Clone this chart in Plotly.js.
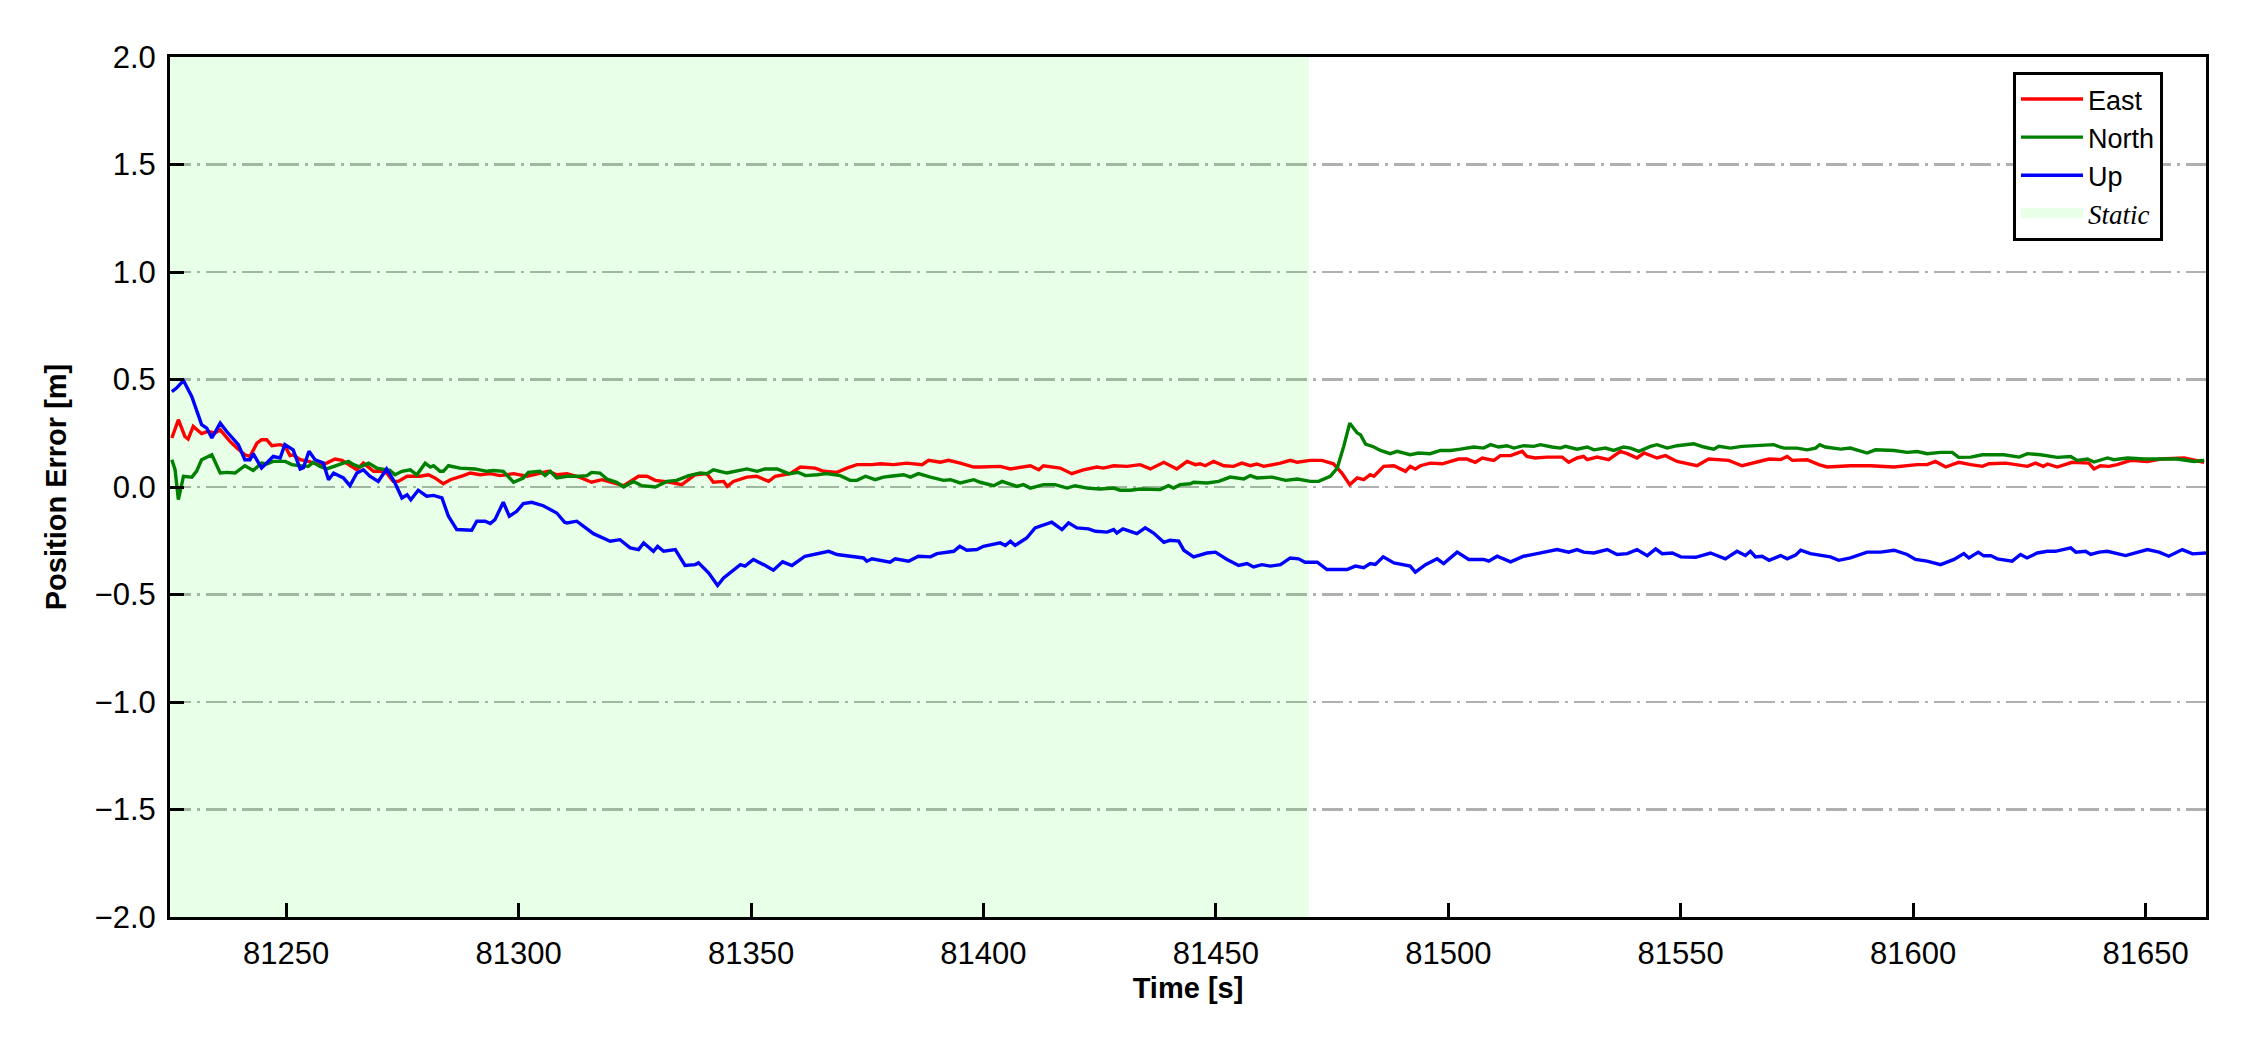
<!DOCTYPE html>
<html>
<head>
<meta charset="utf-8">
<script src="https://cdn.plot.ly/plotly-3.0.1.min.js"></script>
<style>html,body{margin:0;padding:0;background:#fff;}</style>
</head>
<body>
<div id="chart" style="width:2250px;height:1050px;"></div>
<script>
// ---- Data ----
const staticStart = 81225;
const staticEnd = 81470;
const yTickVals = [-2.0, -1.5, -1.0, -0.5, 0.0, 0.5, 1.0, 1.5, 2.0];
const yTickText = ["\u22122.0", "\u22121.5", "\u22121.0", "\u22120.5", "0.0", "0.5", "1.0", "1.5", "2.0"];
const xTickVals = [81250, 81300, 81350, 81400, 81450, 81500, 81550, 81600, 81650];
const xTickText = ["81250", "81300", "81350", "81400", "81450", "81500", "81550", "81600", "81650"];

const eastT = [81225.4,81226.8,81228.2,81228.9,81230.0,81231.8,81233.2,81234.7,81235.8,81237.9,81239.4,81241.1,81242.2,81243.7,81244.7,81245.8,81246.9,81248.7,81249.8,81250.8,81251.5,81253.0,81254.8,81257.0,81258.7,81260.5,81262.0,81263.7,81265.2,81266.6,81268.8,81270.5,81271.6,81273.0,81274.1,81276.0,81278.8,81280.6,81282.0,81283.8,81285.3,81288.1,81289.6,81291.7,81293.9,81296.0,81298.9,81301.8,81303.9,81306.4,81308.2,81310.4,81313.2,81315.7,81317.9,81320.4,81322.6,81325.8,81327.6,81329.4,81332.6,81335.1,81336.5,81338.0,81340.5,81341.9,81344.1,81344.9,81346.2,81349.1,81351.2,81353.8,81355.2,81358.4,81360.6,81363.8,81365.6,81368.5,81370.6,81372.8,81376.0,81377.8,81380.7,81383.5,81386.8,81388.2,81390.7,81392.5,81395.0,81396.4,81397.9,81399.3,81403.6,81405.8,81410.1,81411.9,81412.9,81416.5,81419.0,81421.5,81424.4,81425.8,81428.0,81430.9,81433.7,81435.9,81438.8,81441.6,81443.8,81445.6,81446.6,81447.7,81449.5,81451.7,81453.8,81455.6,81457.4,81458.8,81460.3,81463.9,81466.0,81467.5,81470.3,81472.8,81475.3,81477.1,81478.8,81480.4,81481.8,81483.2,81484.0,81486.1,81488.3,81490.8,81491.8,81492.9,81494.0,81496.1,81498.7,81502.2,81504.0,81505.8,81507.3,81509.8,81511.2,81513.4,81515.9,81516.9,81518.7,81521.2,81524.5,81525.9,81527.7,81529.1,81529.9,81532.0,81534.5,81537.0,81538.5,81540.6,81542.1,81544.9,81546.7,81549.2,81553.5,81556.0,81560.3,81563.2,81565.4,81567.2,81569.0,81571.5,81572.9,81574.0,81577.2,81579.7,81581.5,81586.5,81590.8,81595.9,81600.9,81603.0,81604.8,81607.0,81609.8,81612.4,81614.9,81616.3,81619.9,81624.6,81626.3,81628.0,81628.9,81631.0,81634.2,81637.8,81638.9,81640.3,81642.1,81643.9,81646.8,81650.4,81653.2,81658.3,81660.4,81662.6];
const eastV = [0.228,0.313,0.235,0.223,0.282,0.248,0.259,0.251,0.266,0.212,0.181,0.150,0.142,0.204,0.220,0.220,0.192,0.197,0.189,0.146,0.150,0.127,0.119,0.104,0.111,0.130,0.124,0.099,0.080,0.111,0.073,0.073,0.065,0.026,0.026,0.050,0.050,0.057,0.042,0.015,0.034,0.053,0.065,0.057,0.062,0.053,0.062,0.050,0.062,0.073,0.057,0.062,0.045,0.022,0.034,0.019,0.006,0.050,0.050,0.031,0.022,0.011,0.034,0.057,0.062,0.022,0.026,0.003,0.026,0.046,0.050,0.026,0.050,0.062,0.093,0.088,0.073,0.068,0.088,0.104,0.104,0.108,0.104,0.111,0.104,0.124,0.115,0.124,0.111,0.104,0.093,0.093,0.096,0.084,0.099,0.080,0.099,0.088,0.062,0.080,0.093,0.088,0.099,0.096,0.104,0.084,0.115,0.084,0.119,0.104,0.108,0.099,0.119,0.099,0.096,0.111,0.099,0.107,0.096,0.111,0.124,0.115,0.124,0.124,0.108,0.065,0.011,0.042,0.034,0.057,0.050,0.096,0.099,0.073,0.096,0.084,0.099,0.111,0.108,0.130,0.130,0.115,0.135,0.124,0.146,0.146,0.166,0.142,0.135,0.139,0.139,0.115,0.135,0.142,0.127,0.139,0.127,0.166,0.155,0.135,0.158,0.135,0.146,0.119,0.099,0.130,0.124,0.099,0.111,0.119,0.130,0.128,0.142,0.124,0.127,0.104,0.093,0.099,0.099,0.093,0.104,0.104,0.119,0.093,0.115,0.104,0.096,0.108,0.111,0.096,0.111,0.096,0.107,0.093,0.115,0.111,0.084,0.099,0.096,0.104,0.124,0.119,0.130,0.135,0.127,0.115];

const northT = [81225.4,81226.1,81226.8,81227.9,81229.7,81230.7,81231.8,81232.5,81234.0,81235.8,81237.2,81239.0,81241.1,81242.9,81244.7,81245.8,81247.2,81249.8,81251.2,81253.0,81254.8,81255.8,81257.3,81258.7,81260.9,81263.4,81264.5,81265.9,81267.7,81269.5,81272.3,81273.4,81274.9,81276.7,81278.1,81279.9,81281.0,81281.7,81283.1,81283.8,81284.9,81287.4,81290.6,81293.2,81294.6,81296.7,81298.9,81301.0,81302.1,81304.6,81305.7,81306.8,81308.2,81310.4,81313.2,81314.7,81315.7,81317.5,81319.0,81321.1,81322.6,81324.7,81326.5,81329.4,81331.9,81334.0,81336.6,81339.1,81340.5,81341.9,81344.8,81346.6,81349.1,81351.3,81353.0,81355.6,81358.1,81360.2,81361.7,81364.2,81366.3,81369.2,81371.3,81372.8,81374.6,81376.7,81378.5,81380.0,81382.8,81384.3,81386.0,81388.6,81391.4,81392.9,81395.0,81397.9,81399.3,81402.2,81404.0,81407.2,81408.6,81410.1,81412.9,81415.4,81418.0,81419.7,81422.3,81425.1,81428.0,81429.4,81431.6,81433.7,81435.9,81438.0,81439.8,81440.9,81442.3,81444.5,81445.2,81448.1,81450.6,81453.1,81456.0,81457.4,81458.8,81462.1,81465.0,81467.5,81470.3,81472.1,81474.6,81476.1,81477.5,81478.8,81480.4,81481.1,81482.2,81484.0,81485.4,81487.5,81489.0,81490.8,81491.8,81493.6,81496.1,81498.3,81500.5,81502.6,81505.5,81507.6,81509.1,81510.8,81512.6,81514.1,81516.2,81518.4,81519.8,81522.3,81524.1,81525.2,81527.7,81529.9,81531.3,81533.8,81535.6,81537.7,81539.2,81541.0,81543.5,81544.9,81547.1,81549.2,81552.8,81555.0,81557.1,81558.2,81560.7,81563.2,81567.9,81570.0,81571.5,81572.2,81575.0,81577.2,81579.0,81579.9,81581.1,81584.4,81586.5,81590.1,81591.9,81595.9,81598.7,81600.9,81603.0,81605.9,81608.4,81609.8,81612.4,81614.9,81619.5,81622.8,81624.6,81627.4,81631.0,81633.9,81635.3,81637.5,81638.9,81641.8,81643.2,81646.1,81649.7,81654.0,81656.8,81660.4,81662.6];
const northV = [0.127,0.080,-0.059,0.050,0.046,0.073,0.127,0.135,0.150,0.065,0.068,0.065,0.099,0.077,0.111,0.107,0.119,0.119,0.104,0.099,0.096,0.115,0.096,0.084,0.099,0.119,0.104,0.093,0.111,0.088,0.077,0.057,0.073,0.080,0.057,0.111,0.093,0.099,0.073,0.073,0.099,0.088,0.084,0.073,0.077,0.073,0.022,0.042,0.068,0.073,0.053,0.073,0.042,0.050,0.050,0.053,0.068,0.065,0.037,0.022,0.000,0.026,0.006,0.000,0.026,0.031,0.053,0.065,0.062,0.080,0.065,0.073,0.084,0.073,0.084,0.084,0.062,0.068,0.053,0.057,0.062,0.053,0.031,0.031,0.050,0.034,0.046,0.050,0.057,0.046,0.062,0.046,0.031,0.034,0.019,0.034,0.022,0.006,0.026,0.003,0.011,-0.005,0.011,0.011,-0.005,0.006,-0.005,-0.009,-0.005,-0.015,-0.015,-0.009,-0.012,-0.012,0.006,-0.005,0.011,0.015,0.022,0.019,0.026,0.046,0.037,0.053,0.042,0.046,0.031,0.037,0.026,0.026,0.050,0.088,0.189,0.297,0.251,0.243,0.200,0.186,0.170,0.155,0.166,0.158,0.150,0.158,0.155,0.170,0.170,0.176,0.186,0.181,0.197,0.186,0.192,0.181,0.192,0.189,0.197,0.186,0.181,0.189,0.176,0.186,0.173,0.181,0.170,0.186,0.181,0.166,0.189,0.197,0.181,0.192,0.201,0.186,0.176,0.189,0.181,0.189,0.197,0.197,0.185,0.181,0.181,0.173,0.181,0.197,0.186,0.176,0.181,0.158,0.173,0.170,0.161,0.165,0.155,0.161,0.161,0.138,0.139,0.150,0.150,0.139,0.155,0.150,0.138,0.142,0.124,0.130,0.116,0.135,0.127,0.135,0.130,0.130,0.130,0.119,0.124];

const upT = [81225.4,81226.4,81227.9,81229.7,81231.8,81232.9,81234.0,81235.8,81237.2,81239.7,81241.1,81242.2,81242.9,81244.7,81247.2,81248.7,81249.7,81251.5,81253.0,81253.7,81254.9,81256.2,81258.0,81259.1,81260.2,81262.3,81263.7,81265.2,81266.6,81268.0,81269.8,81271.6,81273.4,81274.9,81276.0,81276.8,81278.4,81280.2,81281.7,81283.5,81284.9,81286.7,81289.9,81291.0,81292.8,81293.9,81294.9,81296.7,81298.0,81299.6,81301.0,81302.8,81305.3,81308.2,81309.9,81310.4,81312.5,81316.1,81319.7,81321.8,81324.0,81325.8,81326.9,81329.0,81329.9,81331.2,81333.7,81335.8,81338.0,81338.7,81340.9,81342.8,81344.1,81345.9,81347.7,81348.7,81350.5,81352.7,81354.8,81356.8,81358.8,81361.6,81364.2,81366.7,81368.5,81372.0,81374.2,81374.9,81376.0,81379.9,81381.0,81383.9,81386.0,81388.6,81390.0,81393.6,81394.9,81396.4,81398.6,81400.0,81403.6,81404.7,81405.8,81406.8,81409.3,81411.1,81412.9,81414.7,81416.9,81418.3,81420.1,81422.6,81424.1,81426.6,81428.0,81428.7,81430.0,81433.0,81434.8,81436.6,81438.8,81440.1,81442.0,81443.1,81445.2,81448.1,81449.9,81452.4,81454.9,81456.7,81458.1,81459.9,81461.7,81463.9,81466.0,81467.8,81469.2,81471.8,81473.9,81478.2,81480.0,81481.8,81483.2,81484.3,81486.0,81488.3,81491.8,81492.9,81495.1,81497.6,81499.0,81501.9,81504.4,81507.6,81508.7,81510.5,81513.4,81516.2,81519.1,81523.4,81525.9,81527.7,81529.1,81531.3,81534.2,81536.3,81538.5,81540.6,81542.8,81544.6,81546.0,81548.2,81550.0,81553.2,81556.4,81559.6,81562.1,81563.9,81565.0,81566.1,81567.5,81569.0,81571.5,81572.9,81574.7,81575.8,81577.9,81582.2,81584.0,81586.5,81590.1,81593.0,81595.9,81598.7,81600.5,81603.0,81605.9,81608.8,81610.9,81612.0,81614.0,81615.2,81616.7,81618.1,81621.3,81623.1,81624.5,81626.7,81628.9,81630.6,81633.9,81635.0,81637.1,81638.2,81640.0,81641.8,81645.7,81650.4,81652.9,81655.0,81657.9,81660.1,81663.0];
const upV = [0.444,0.460,0.495,0.420,0.290,0.274,0.228,0.297,0.258,0.197,0.127,0.127,0.155,0.088,0.142,0.135,0.197,0.173,0.084,0.090,0.166,0.127,0.111,0.034,0.065,0.042,0.006,0.065,0.080,0.050,0.026,0.084,0.019,-0.051,-0.036,-0.059,-0.015,-0.043,-0.039,-0.051,-0.136,-0.198,-0.201,-0.159,-0.159,-0.170,-0.152,-0.071,-0.136,-0.113,-0.077,-0.071,-0.087,-0.121,-0.164,-0.167,-0.159,-0.217,-0.252,-0.245,-0.283,-0.291,-0.260,-0.299,-0.276,-0.299,-0.291,-0.365,-0.361,-0.353,-0.400,-0.458,-0.423,-0.392,-0.361,-0.368,-0.337,-0.361,-0.387,-0.348,-0.365,-0.322,-0.310,-0.299,-0.314,-0.322,-0.330,-0.345,-0.334,-0.350,-0.334,-0.345,-0.322,-0.325,-0.310,-0.299,-0.276,-0.294,-0.291,-0.276,-0.260,-0.272,-0.252,-0.272,-0.237,-0.190,-0.175,-0.164,-0.198,-0.167,-0.190,-0.195,-0.206,-0.210,-0.198,-0.214,-0.195,-0.217,-0.190,-0.214,-0.257,-0.248,-0.252,-0.294,-0.325,-0.307,-0.303,-0.337,-0.365,-0.356,-0.372,-0.361,-0.368,-0.361,-0.330,-0.334,-0.350,-0.350,-0.384,-0.384,-0.368,-0.375,-0.356,-0.360,-0.325,-0.353,-0.368,-0.396,-0.361,-0.334,-0.356,-0.303,-0.337,-0.337,-0.345,-0.322,-0.348,-0.322,-0.310,-0.291,-0.303,-0.291,-0.303,-0.307,-0.291,-0.314,-0.310,-0.291,-0.319,-0.288,-0.310,-0.307,-0.325,-0.327,-0.307,-0.334,-0.299,-0.319,-0.299,-0.325,-0.322,-0.341,-0.319,-0.334,-0.317,-0.294,-0.310,-0.325,-0.341,-0.330,-0.303,-0.303,-0.294,-0.314,-0.337,-0.345,-0.361,-0.337,-0.310,-0.330,-0.303,-0.320,-0.319,-0.334,-0.345,-0.314,-0.330,-0.307,-0.299,-0.299,-0.283,-0.303,-0.299,-0.314,-0.303,-0.299,-0.319,-0.291,-0.303,-0.322,-0.291,-0.311,-0.307];

// ---- Traces ----
const fontSans = "'Liberation Sans', Arial, sans-serif";
const staticFill = 'rgba(0,255,0,0.09)';
const traces = [
  {
    x: [staticStart, staticEnd, staticEnd, staticStart],
    y: [yTickVals[0], yTickVals[0], yTickVals[yTickVals.length-1], yTickVals[yTickVals.length-1]],
    type: 'scatter', mode: 'lines', fill: 'toself',
    fillcolor: staticFill,
    line: {width: 0, color: 'rgba(0,0,0,0)'},
    showlegend: false, hoverinfo: 'skip'
  },
  {x: eastT, y: eastV, type: 'scatter', mode: 'lines', name: 'East',
   line: {color: '#ff0000', width: 3.4}, legendrank: 1},
  {x: northT, y: northV, type: 'scatter', mode: 'lines', name: 'North',
   line: {color: '#008000', width: 3.4}, legendrank: 2},
  {x: upT, y: upV, type: 'scatter', mode: 'lines', name: 'Up',
   line: {color: '#0000ff', width: 3.4}, legendrank: 3},
  // legend proxy for the static-period shading
  {x: [null], y: [null], type: 'scatter', mode: 'lines',
   name: "<span style=\"font-family:'Liberation Serif',serif\"><i>Static</i></span>",
   line: {color: staticFill, width: 18}, legendrank: 4, hoverinfo: 'skip'}
];

const layout = {
  width: 2250, height: 1050,
  margin: {l: 170, r: 44, t: 57, b: 133},
  paper_bgcolor: '#ffffff', plot_bgcolor: '#ffffff',
  font: {family: fontSans, color: '#000000'},
  showlegend: true,
  legend: {
    x: 0.9052, y: 0.9826, xanchor: 'left', yanchor: 'top',
    bgcolor: '#ffffff', bordercolor: '#000000', borderwidth: 3,
    font: {family: fontSans, size: 27, color: '#000000'},
    itemwidth: 62, tracegroupgap: 0
  },
  xaxis: {
    range: [81225, 81663],
    tickmode: 'array', tickvals: xTickVals, ticktext: xTickText,
    ticks: 'inside', ticklen: 14, tickwidth: 3, tickcolor: '#000000',
    showline: true, linewidth: 3, linecolor: '#000000', mirror: true,
    showgrid: false, zeroline: false,
    tickfont: {family: fontSans, size: 31, color: '#000000'},
    ticklabelstandoff: 7,
    title: {text: '<b>Time [s]</b>', font: {family: fontSans, size: 29, color: '#000000'}, standoff: 8},
    automargin: false
  },
  yaxis: {
    range: [-2, 2],
    tickmode: 'array', tickvals: yTickVals, ticktext: yTickText,
    ticks: 'inside', ticklen: 14, tickwidth: 3, tickcolor: '#000000',
    showline: true, linewidth: 3, linecolor: '#000000', mirror: true,
    showgrid: true, gridcolor: '#b0b0b0', gridwidth: 2.5, griddash: '21px,6px,3px,6px',
    zeroline: false,
    tickfont: {family: fontSans, size: 31, color: '#000000'},
    ticklabelstandoff: 5,
    title: {text: '<b>Position Error [m]</b>', font: {family: fontSans, size: 29, color: '#000000'}, standoff: 20},
    automargin: false
  }
};

Plotly.newPlot('chart', traces, layout, {displayModeBar: false, staticPlot: true});
</script>
</body>
</html>
